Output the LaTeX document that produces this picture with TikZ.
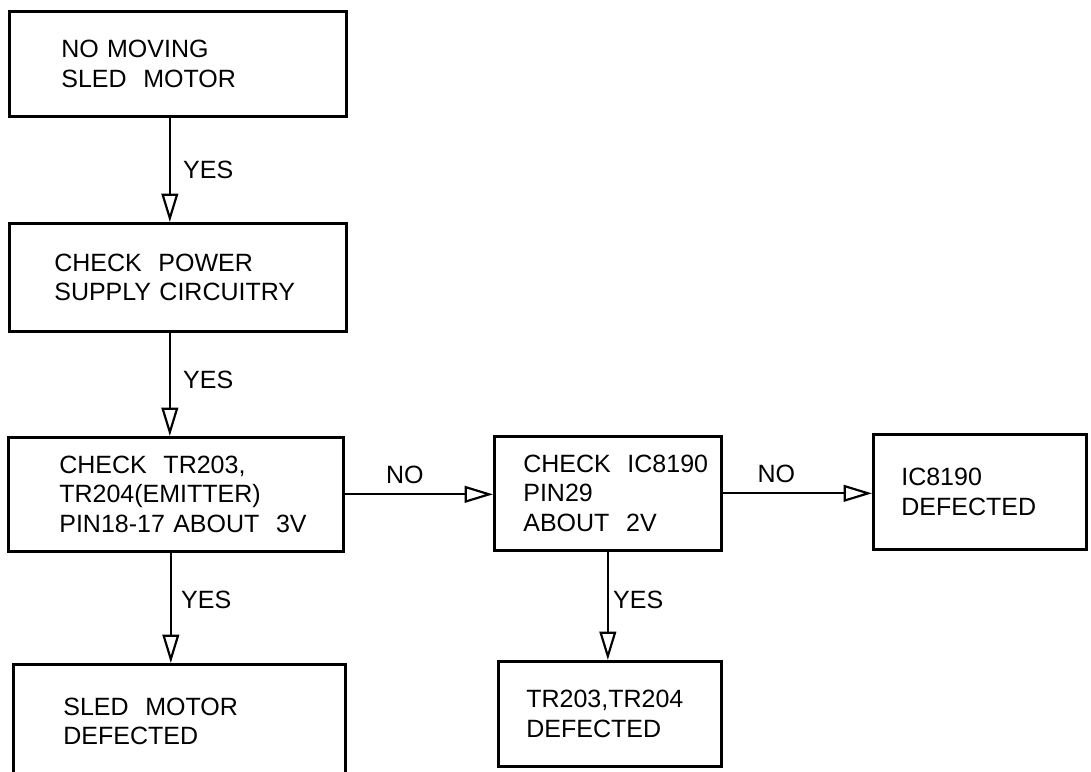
\documentclass[tikz,border=0pt]{standalone}
\usepackage{fontspec}
\setmainfont{Liberation Sans}
\usetikzlibrary{arrows.meta,positioning}
\newdimen\px \px=0.6pt

\begin{document}
\begin{tikzpicture}[x=\px, y=-\px, >={Triangle[open, length=17pt, width=10pt, line width=1.3pt]},
    every node/.style={font=\fontsize{15}{17.7}\selectfont},
    box/.style={draw, line width=1.6pt, anchor=north west, inner sep=0pt, align=left},
    boxsize/.style n args={3}{minimum width=#1\px, text width=#1\px, minimum height=#2\px, execute at begin node={\leftskip=#3\px}},
    arr/.style={->, line width=1.2pt},
    lbl/.style={inner sep=2pt}]
    \useasboundingbox (0,0) rectangle (1091,772);
    \node[box, boxsize={337}{105}{52}] (nomove) at (8,10) {NO MOVING\\SLED~~MOTOR};
    \node[box, boxsize={337}{108}{45}] (power) at (8,222) {CHECK~~POWER\\SUPPLY CIRCUITRY};
    \node[box, boxsize={335}{114}{51}] (emitter) at (7,436) {CHECK~~TR203,\\TR204(EMITTER)\\PIN18-17 ABOUT~~3V};
    \node[box, boxsize={332}{114}{50}] (sledbad) at (12,663) {SLED~~MOTOR\\DEFECTED};
    \node[box, boxsize={227}{114}{29}] (pin29) at (493,435) {CHECK~~IC8190\\PIN29\\ABOUT~~2V};
    \node[box, boxsize={213}{115}{28}] (icbad) at (872,433) {IC8190\\DEFECTED};
    \node[box, boxsize={223}{105}{28}] (trbad) at (497,660) {TR203,TR204\\DEFECTED};
    \draw[arr] ([xshift=-8\px]nomove.south) -- ([xshift=-8\px]power.north) node[lbl, midway, right=9\px] {YES};
    \draw[arr] ([xshift=-8\px]power.south) -- ([xshift=-8\px]power.south |- emitter.north) node[lbl, midway, right=9\px, yshift=4\px] {YES};
    \draw[arr] ([xshift=-5\px]emitter.south) -- ([xshift=-5\px]emitter.south |- sledbad.north) node[lbl, midway, right=6\px, yshift=8\px] {YES};
    \draw[arr] (emitter.east) -- (emitter.east -| pin29.west) node[lbl, midway, yshift=19\px, xshift=-14\px] {NO};
    \draw[arr] (pin29.east) -- (pin29.east -| icbad.west) node[lbl, midway, yshift=19\px, xshift=-21\px] {NO};
    \draw[arr] (pin29.south) -- (pin29.south |- trbad.north) node[lbl, midway, right=1\px, yshift=6\px] {YES};
\end{tikzpicture}
\end{document}
